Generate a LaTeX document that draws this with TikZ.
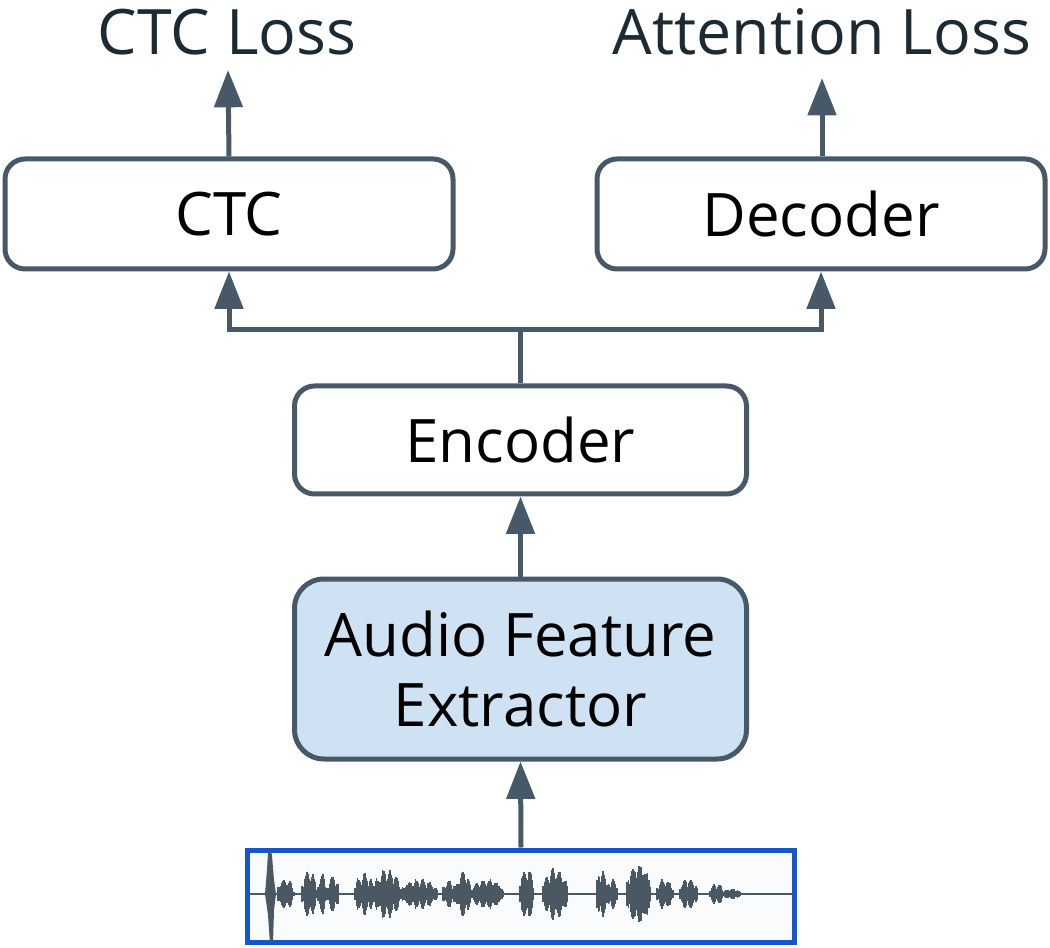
\documentclass[tikz,border=0pt]{standalone}
\usepackage{fontspec}
\setmainfont{Open Sans}
\usetikzlibrary{arrows.meta}

\definecolor{edge}{RGB}{71,89,105}
\definecolor{featfill}{RGB}{207,226,243}
\definecolor{waveframe}{RGB}{22,86,204}
\definecolor{wavebg}{RGB}{250,251,252}
\definecolor{wavecol}{RGB}{74,88,99}
\definecolor{labeltxt}{RGB}{28,43,51}

\tikzset{
  block/.style={draw=edge, line width=3.75pt, rounded corners=15pt, fill=white,
    minimum width=448*0.75pt, minimum height=110*0.75pt, inner sep=0pt,
    font=\fontsize{45}{52.5}\selectfont, align=center},
  feature/.style={block, fill=featfill, rounded corners=22pt,
    minimum height=180*0.75pt},
  losslabel/.style={font=\fontsize{47}{52}\selectfont, text=labeltxt, inner sep=0pt},
  flow/.style={draw=edge, line width=3.75pt,
    -{Triangle[length=28pt, width=21pt]}},
  link/.style={draw=edge, line width=3.75pt},
  wave/.style={draw=wavecol, line width=1.2pt},
}

\begin{document}
\begin{tikzpicture}[x=0.75pt, y=-0.75pt]
  \useasboundingbox (0,0) rectangle (1050,948);

  % loss labels
  \node[losslabel] (ctclbl) at (227,32) {CTC Loss};
  \node[losslabel] (attlbl) at (822,32) {Attention Loss};
  \coordinate (ctctip) at (228,70);
  \coordinate (atttip) at (822,78);

  % blocks
  \node[block] (ctc) at (229,214) {CTC};
  \node[block] (dec) at (821,214) {Decoder};
  \node[block, minimum width=452*0.75pt, minimum height=108*0.75pt] (enc) at (520.5,440) {Encoder};
  \node[feature, minimum width=452*0.75pt] (afe) at (520.5,669) {Audio Feature\\Extractor};

  % waveform frame
  \node[draw=waveframe, line width=3.75pt, fill=wavebg, minimum width=547*0.75pt,
        minimum height=92*0.75pt, inner sep=0pt] (wav) at (521,896) {};

  % connectors
  \coordinate (split) at (520.5,330);
  \draw[flow] (ctc.north) -- (ctctip);
  \draw[flow] (dec.north -| atttip) -- (atttip);
  \draw[link] (enc.north) -- (split);
  \draw[flow] (split) -| (ctc.south);
  \draw[flow] (split) -| (dec.south);
  \draw[flow] (afe.north) -- (enc.south);
  \draw[flow] (wav.north) -- (afe.south);

  % waveform trace: syllable bursts with a spiky inner modulation
  \begin{scope}
    \clip (250,852) rectangle (793,941);
    \draw[draw=wavecol, line width=1.1pt] (250,894) -- (793,894);
    \pgfmathsetseed{17}
    \foreach \a/\b/\m in {
      277/294/16, 301/317/24, 317/327/22, 327/339/20,
      354/374/21, 373/401/25, 400/438/15, 442/458/13,
      456/471/24, 470/504/15, 519/534/27, 542/568/26,
      596/608/25, 606/618/15, 626/651/32, 656/674/15,
      679/698/16, 709/724/10, 722/741/5} {
      \pgfmathtruncatemacro\n{(\b-\a)/1.2}
      \foreach \i in {0,...,\n} {
        \pgfmathsetmacro\xx{\a+\i*1.2}
        \pgfmathsetmacro\h{\m*(0.45+0.55*abs(sin(\i*31+\a)))*(0.8+0.2*rnd)*sqrt(max(sin(180*(\xx-\a)/(\b-\a)),0))+0.8}
        \draw[wave] (\xx,894-\h) -- (\xx,894+\h);
      }
    }
    % initial transient
    \fill[wavecol] (265,894) -- (267,870) -- (268,852) -- (271,850) -- (272,856)
      -- (274,880) -- (276,894) -- (274,910) -- (273,944) -- (270,944)
      -- (268,915) -- cycle;
  \end{scope}
\end{tikzpicture}
\end{document}
